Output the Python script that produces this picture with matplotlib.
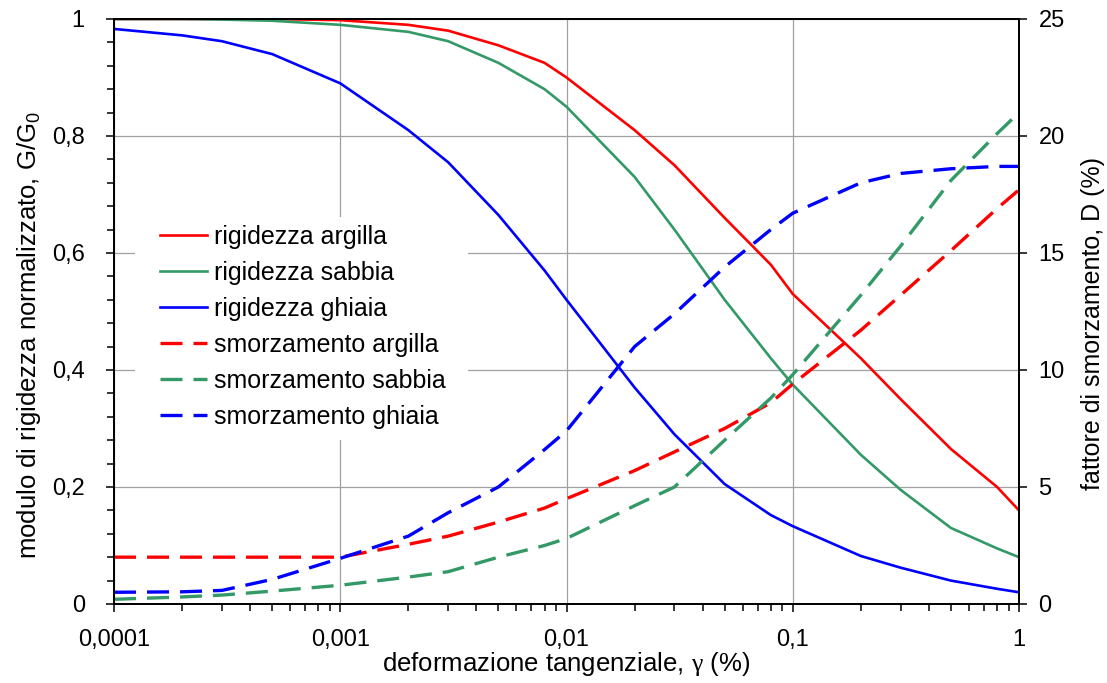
import numpy as np
import matplotlib
matplotlib.use('Agg')
import matplotlib.pyplot as plt
from matplotlib.patches import Rectangle
from matplotlib.ticker import FixedLocator, MultipleLocator, FuncFormatter, LogLocator, NullFormatter

plt.rcParams['font.family'] = ['Liberation Sans', 'DejaVu Sans']
plt.rcParams['mathtext.fontset'] = 'custom'
plt.rcParams['mathtext.rm'] = 'Liberation Serif'
plt.rcParams['mathtext.sf'] = 'Liberation Sans'

# deformazione tangenziale (%)
gamma = [0.0001, 0.0002, 0.0003, 0.0005, 0.001, 0.002, 0.003, 0.005, 0.008, 0.01,
         0.02, 0.03, 0.05, 0.08, 0.1, 0.2, 0.3, 0.5, 0.8, 1.0]

# G/G0
rig_argilla = [1.0, 1.0, 1.0, 1.0, 0.998, 0.99, 0.98, 0.955, 0.925, 0.90,
               0.81, 0.75, 0.66, 0.58, 0.53, 0.42, 0.35, 0.265, 0.20, 0.16]
rig_sabbia = [1.0, 1.0, 0.999, 0.997, 0.99, 0.978, 0.962, 0.925, 0.88, 0.85,
              0.73, 0.64, 0.52, 0.42, 0.375, 0.255, 0.195, 0.13, 0.095, 0.08]
rig_ghiaia = [0.983, 0.972, 0.962, 0.94, 0.89, 0.81, 0.755, 0.665, 0.57, 0.52,
              0.37, 0.29, 0.205, 0.152, 0.133, 0.082, 0.062, 0.04, 0.026, 0.02]

# D (%)
smo_argilla = [2.0, 2.0, 2.0, 2.0, 2.0, 2.55, 2.9, 3.5, 4.1, 4.5,
               5.7, 6.5, 7.5, 8.6, 9.4, 11.7, 13.2, 15.1, 16.9, 17.7]
smo_sabbia = [0.2, 0.3, 0.38, 0.55, 0.8, 1.15, 1.38, 2.0, 2.5, 2.8,
              4.2, 5.0, 7.0, 8.8, 9.8, 13.2, 15.3, 18.1, 20.1, 21.0]
smo_ghiaia = [0.5, 0.52, 0.58, 1.05, 1.95, 2.9, 3.9, 5.0, 6.6, 7.4,
              11.0, 12.4, 14.4, 16.0, 16.7, 18.0, 18.4, 18.6, 18.7, 18.7]

red = '#ff0000'
green = '#339966'
blue = '#0000ff'

def comma(v, pos):
    s = ('%.4f' % v).rstrip('0').rstrip('.')
    return s.replace('.', ',')

fig = plt.figure(figsize=(11.07, 6.83), dpi=100)
ax = fig.add_axes([0.103, 0.1157, 0.8175, 0.8565])
ax2 = ax.twinx()

dash = (6.6, 3.3)
l1, = ax.plot(gamma, rig_argilla, color=red, lw=1.9, label='rigidezza argilla')
l2, = ax.plot(gamma, rig_sabbia, color=green, lw=1.9, label='rigidezza sabbia')
l3, = ax.plot(gamma, rig_ghiaia, color=blue, lw=1.9, label='rigidezza ghiaia')

l4, = ax2.plot(gamma, smo_argilla, color=red, lw=2.4, dashes=dash, label='smorzamento argilla')
l5, = ax2.plot(gamma, smo_sabbia, color=green, lw=2.4, dashes=dash, label='smorzamento sabbia')
l6, = ax2.plot(gamma, smo_ghiaia, color=blue, lw=2.4, dashes=dash, label='smorzamento ghiaia')

ax.set_xscale('log')
ax.set_xlim(0.0001, 1)
ax.set_ylim(0, 1)
ax2.set_ylim(0, 25)

ax.xaxis.set_major_locator(FixedLocator([0.0001, 0.001, 0.01, 0.1, 1]))
ax.xaxis.set_major_formatter(FuncFormatter(comma))
ax.xaxis.set_minor_locator(LogLocator(base=10, subs=np.arange(2, 10)))
ax.xaxis.set_minor_formatter(NullFormatter())
ax.yaxis.set_major_locator(MultipleLocator(0.2))
ax.yaxis.set_major_formatter(FuncFormatter(comma))
ax.yaxis.set_minor_locator(MultipleLocator(0.04))
ax2.yaxis.set_major_locator(MultipleLocator(5))

ax.grid(True, which='major', color='#a0a0a0', lw=0.9)
ax.set_axisbelow(True)

# white area behind the legend (hides the grid there)
ax.add_patch(Rectangle((0.0232, 0.2803), 0.368, 0.3812, transform=ax.transAxes,
                       facecolor='white', edgecolor='none', zorder=1.5))

for a in (ax, ax2):
    for sp in a.spines.values():
        sp.set_linewidth(1.3)
    a.tick_params(which='major', direction='out', length=6, width=1.1, labelsize=17)
    a.tick_params(which='minor', direction='out', length=5, width=1.1)
ax.tick_params(axis='x', which='major', pad=12)
ax.tick_params(axis='y', which='major', pad=15)
ax2.tick_params(axis='y', which='major', pad=8)

ax.set_xlabel(r'deformazione tangenziale, $\mathrm{\gamma}$ (%)', fontsize=18.5)
ax.set_ylabel(r'modulo di rigidezza normalizzato, G/G$_\mathsf{0}$', fontsize=18.5)
ax2.set_ylabel('fattore di smorzamento, D (%)', fontsize=18)
ax.xaxis.set_label_coords(0.5, -0.079)
ax.yaxis.set_label_coords(-0.078, 0.46)
ax2.yaxis.set_label_coords(1.068, 0.48)

leg = ax2.legend(handles=[l1, l2, l3, l4, l5, l6], loc='upper left',
                 bbox_to_anchor=(0.0508, 0.648), borderaxespad=0, borderpad=0,
                 fontsize=18, frameon=False, handlelength=1.9,
                 handletextpad=0.28, labelspacing=0.48)

fig.savefig('out.png', dpi=100)
